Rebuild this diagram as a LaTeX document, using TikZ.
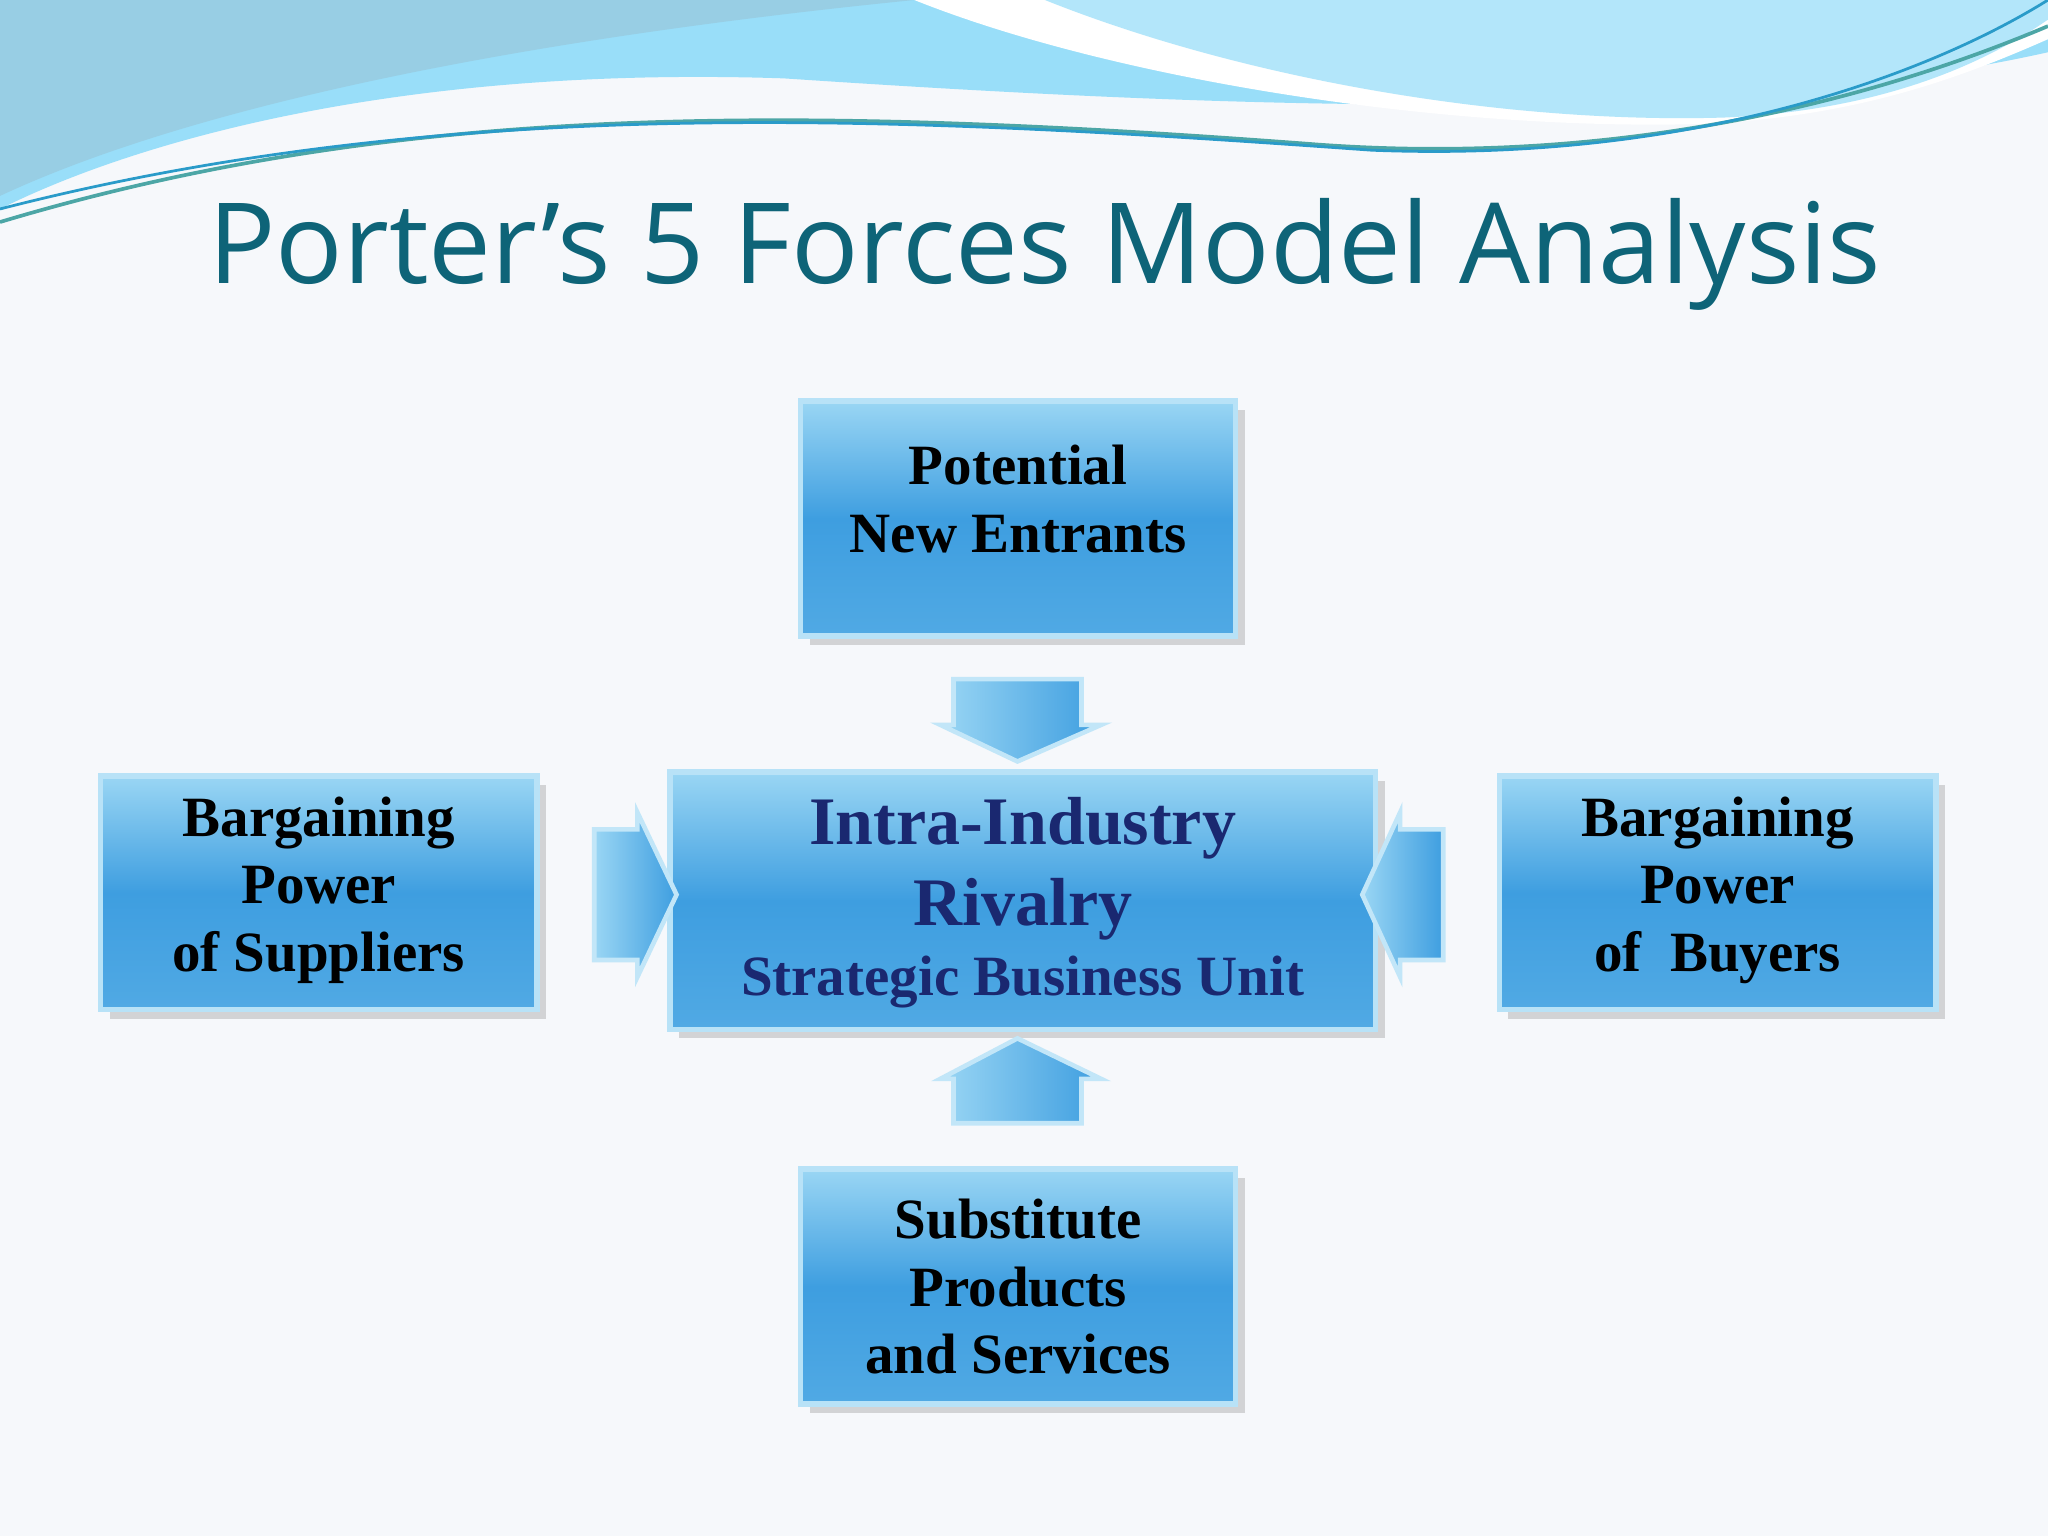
\documentclass[tikz,border=0pt]{standalone}
\usepackage{fontspec}
\setmainfont{Liberation Serif}
\newfontfamily\titlefont{Open Sans}
\usetikzlibrary{shadows}
\definecolor{titlec}{HTML}{0E6478}
\definecolor{bgc}{HTML}{F6F8FB}
\definecolor{boxtop}{HTML}{9AD6F4}
\definecolor{boxbot}{HTML}{3E9EE0}
\definecolor{navy}{HTML}{1A2870}
\tikzset{
  force/.style={draw=boxtop!70!white, line width=1.2pt, top color=boxtop, bottom color=boxbot!80!boxtop, middle color=boxbot, align=center, font=\bfseries\fontsize{12.4}{14.8}\selectfont, text=black, drop shadow={opacity=0.3, shadow xshift=2pt, shadow yshift=-2pt}},
  arr/.style={draw=boxtop!60!white, line width=1pt, left color=boxtop, right color=boxbot}
}
\begin{document}
\begin{tikzpicture}[x=0.01cm,y=-0.01cm]
\fill[bgc] (0,0) rectangle (1568,1176);
\useasboundingbox (0,0) rectangle (1568,1176);
% top waves
\fill[cyan!40!white] (0,0) -- (1568,0) -- (1568,40) .. controls (1300,100) and (900,80) .. (600,60) .. controls (300,50) and (100,110) .. (0,160) -- cycle;
\fill[cyan!55!teal!45!white] (0,0) -- (700,0) .. controls (400,30) and (150,80) .. (0,150) -- cycle;
\fill[white] (700,0) .. controls (850,60) and (1100,100) .. (1300,95) .. controls (1420,90) and (1500,60) .. (1568,30) -- (1568,0) -- cycle;
\fill[cyan!30!white] (800,0) .. controls (950,60) and (1150,95) .. (1320,90) .. controls (1430,85) and (1510,55) .. (1568,15) -- (1568,0) -- cycle;
\draw[teal!70, line width=0.8pt] (0,170) .. controls (300,80) and (600,80) .. (1000,110) .. controls (1250,130) and (1450,70) .. (1568,20);
\draw[cyan!60!teal, line width=0.6pt] (0,160) .. controls (350,70) and (700,90) .. (1050,115) .. controls (1300,125) and (1480,55) .. (1568,0);
\node[font=\titlefont\fontsize{24.4}{28}\selectfont, text=titlec] (title) at (800,195) {Porter’s 5 Forces Model Analysis};
% boxes
\node[force, minimum width=3.33cm, minimum height=1.80cm, text depth=0.3cm] (pne) at (779.5,397) {Potential\\New Entrants};
\node[force, minimum width=3.34cm, minimum height=1.79cm, text depth=0.13cm] (sup) at (244,683.5) {Bargaining\\Power\\of Suppliers};
\node[force, minimum width=3.34cm, minimum height=1.79cm, text depth=0.13cm] (buy) at (1315,683.5) {Bargaining\\Power\\of\ \ Buyers};
\node[force, minimum width=3.33cm, minimum height=1.80cm] (sub) at (779.5,985) {Substitute\\Products\\and Services};
\node[force, minimum width=5.40cm, minimum height=1.97cm] (ctr) at (783,689.5) {};
\node[font=\bfseries\fontsize{14.8}{17.6}\selectfont, text=navy, align=center] (ctrt) at (783,665) {Intra-Industry\\Rivalry};
\node[font=\bfseries\fontsize{12.4}{15}\selectfont, text=navy] (ctrs) at (783,752) {Strategic Business Unit};
% arrows
\draw[arr] (730,520) -- (828,520) -- (828,555) -- (843,555) -- (779,583) -- (720,555) -- (730,555) -- cycle;
\draw[arr] (730,860) -- (828,860) -- (828,826) -- (843,826) -- (779,795) -- (720,826) -- (730,826) -- cycle;
\draw[arr] (455,635) -- (488,635) -- (488,622) -- (518,685) -- (488,748) -- (488,735) -- (455,735) -- cycle;
\draw[arr] (1105,635) -- (1072,635) -- (1072,622) -- (1043,685) -- (1072,748) -- (1072,735) -- (1105,735) -- cycle;
\end{tikzpicture}
\end{document}
